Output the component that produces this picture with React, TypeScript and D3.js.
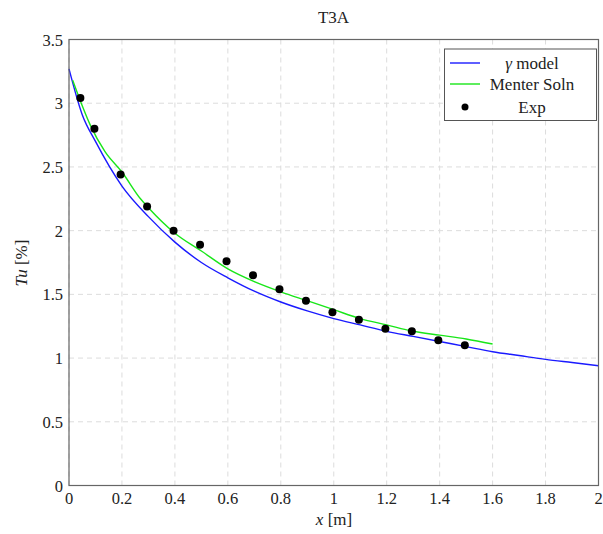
import React from "react";
import * as d3 from "d3";

const gammaX = [0, 0.05, 0.1, 0.2, 0.3, 0.4, 0.5, 0.6, 0.7, 0.8, 0.9, 1.0, 1.1, 1.2, 1.3, 1.4, 1.5, 1.6, 1.7, 1.8, 1.9, 2.0];
const gammaY = [3.27, 2.91, 2.70, 2.35, 2.11, 1.91, 1.75, 1.63, 1.525, 1.44, 1.37, 1.31, 1.26, 1.21, 1.17, 1.13, 1.09, 1.05, 1.02, 0.99, 0.965, 0.94];

const menterX = [0.014, 0.05, 0.08, 0.136, 0.2, 0.27, 0.3, 0.4, 0.5, 0.6, 0.7, 0.8, 0.9, 1.0, 1.1, 1.2, 1.3, 1.4, 1.5, 1.6];
const menterY = [3.18, 2.98, 2.83, 2.62, 2.46, 2.25, 2.18, 1.98, 1.84, 1.70, 1.60, 1.52, 1.45, 1.38, 1.31, 1.26, 1.21, 1.18, 1.15, 1.11];

const expX = [0.043, 0.096, 0.195, 0.295, 0.395, 0.495, 0.595, 0.695, 0.795, 0.895, 0.995, 1.095, 1.195, 1.295, 1.395, 1.495];
const expY = [3.04, 2.80, 2.44, 2.19, 2.00, 1.89, 1.76, 1.65, 1.54, 1.45, 1.36, 1.30, 1.23, 1.21, 1.14, 1.10];

const xTicks = [0, 0.2, 0.4, 0.6, 0.8, 1, 1.2, 1.4, 1.6, 1.8, 2];
const yTicks = [0, 0.5, 1, 1.5, 2, 2.5, 3, 3.5];

const legendLabels = ["γ model", "Menter Soln", "Exp"];

export default function App() {
  const W = 603, H = 534;
  const left = 69, right = 598.5, top = 39.5, bottom = 485.5;
  const x = d3.scaleLinear().domain([0, 2]).range([left, right]);
  const y = d3.scaleLinear().domain([0, 3.5]).range([bottom, top]);
  const line = d3.line<[number, number]>().x(d => x(d[0])).y(d => y(d[1])).curve(d3.curveMonotoneX);
  const gammaPts = gammaX.map((v, i) => [v, gammaY[i]] as [number, number]);
  const menterPts = menterX.map((v, i) => [v, menterY[i]] as [number, number]);
  const font2 = "'Liberation Serif', serif";
  const fs = 16.5;
  return (
    <svg width={W} height={H} style={{ position: "absolute", left: 0, top: 0, background: "#fff" }} fontFamily={font2}>
      <rect x={0} y={0} width={W} height={H} fill="#fff" />
      {xTicks.map(t => (
        <line key={"gx" + t} x1={x(t)} x2={x(t)} y1={top} y2={bottom} stroke="#dcdcdc" strokeDasharray="5,4" strokeWidth={1} />
      ))}
      {yTicks.map(t => (
        <line key={"gy" + t} x1={left} x2={right} y1={y(t)} y2={y(t)} stroke="#dcdcdc" strokeDasharray="5,4" strokeWidth={1} />
      ))}
      <path d={line(gammaPts) || ""} fill="none" stroke="#1a1aff" strokeWidth={1.4} />
      <path d={line(menterPts) || ""} fill="none" stroke="#19e619" strokeWidth={1.4} />
      {expX.map((v, i) => (
        <circle key={"e" + i} cx={x(v)} cy={y(expY[i])} r={4} fill="#000" />
      ))}
      <rect x={left} y={top} width={right - left} height={bottom - top} fill="none" stroke="#666" strokeWidth={1.2} />
      {xTicks.map(t => (
        <text key={"tx" + t} x={x(t)} y={bottom + 18} fontSize={fs} textAnchor="middle" fill="#222">{String(t)}</text>
      ))}
      {yTicks.map(t => (
        <text key={"ty" + t} x={left - 6} y={y(t) + 6} fontSize={fs} textAnchor="end" fill="#222">{String(t)}</text>
      ))}
      <text x={333.5} y={23} fontSize={17} textAnchor="middle" fill="#222">T3A</text>
      <text x={334} y={525} fontSize={17} textAnchor="middle" fill="#222">
        <tspan fontStyle="italic">x</tspan> [m]
      </text>
      <text transform={`translate(27,263) rotate(-90)`} fontSize={17} textAnchor="middle" fill="#222">
        <tspan fontStyle="italic">Tu</tspan> [%]
      </text>
      <g>
        <rect x={444.5} y={49} width={152} height={71.5} fill="#fff" stroke="#555" strokeWidth={1} />
        <line x1={450} x2={480} y1={63} y2={63} stroke="#1a1aff" strokeWidth={1.4} />
        <line x1={450} x2={480} y1={84} y2={84} stroke="#19e619" strokeWidth={1.4} />
        <circle cx={465} cy={107} r={3.5} fill="#000" />
        {legendLabels.map((l, i) => (
          <text key={l} x={532} y={[63, 84, 107][i] + 5.5} fontSize={17} textAnchor="middle" fill="#222">
            {i === 0 ? (<><tspan fontStyle="italic">γ</tspan> model</>) : l}
          </text>
        ))}
      </g>
    </svg>
  );
}
